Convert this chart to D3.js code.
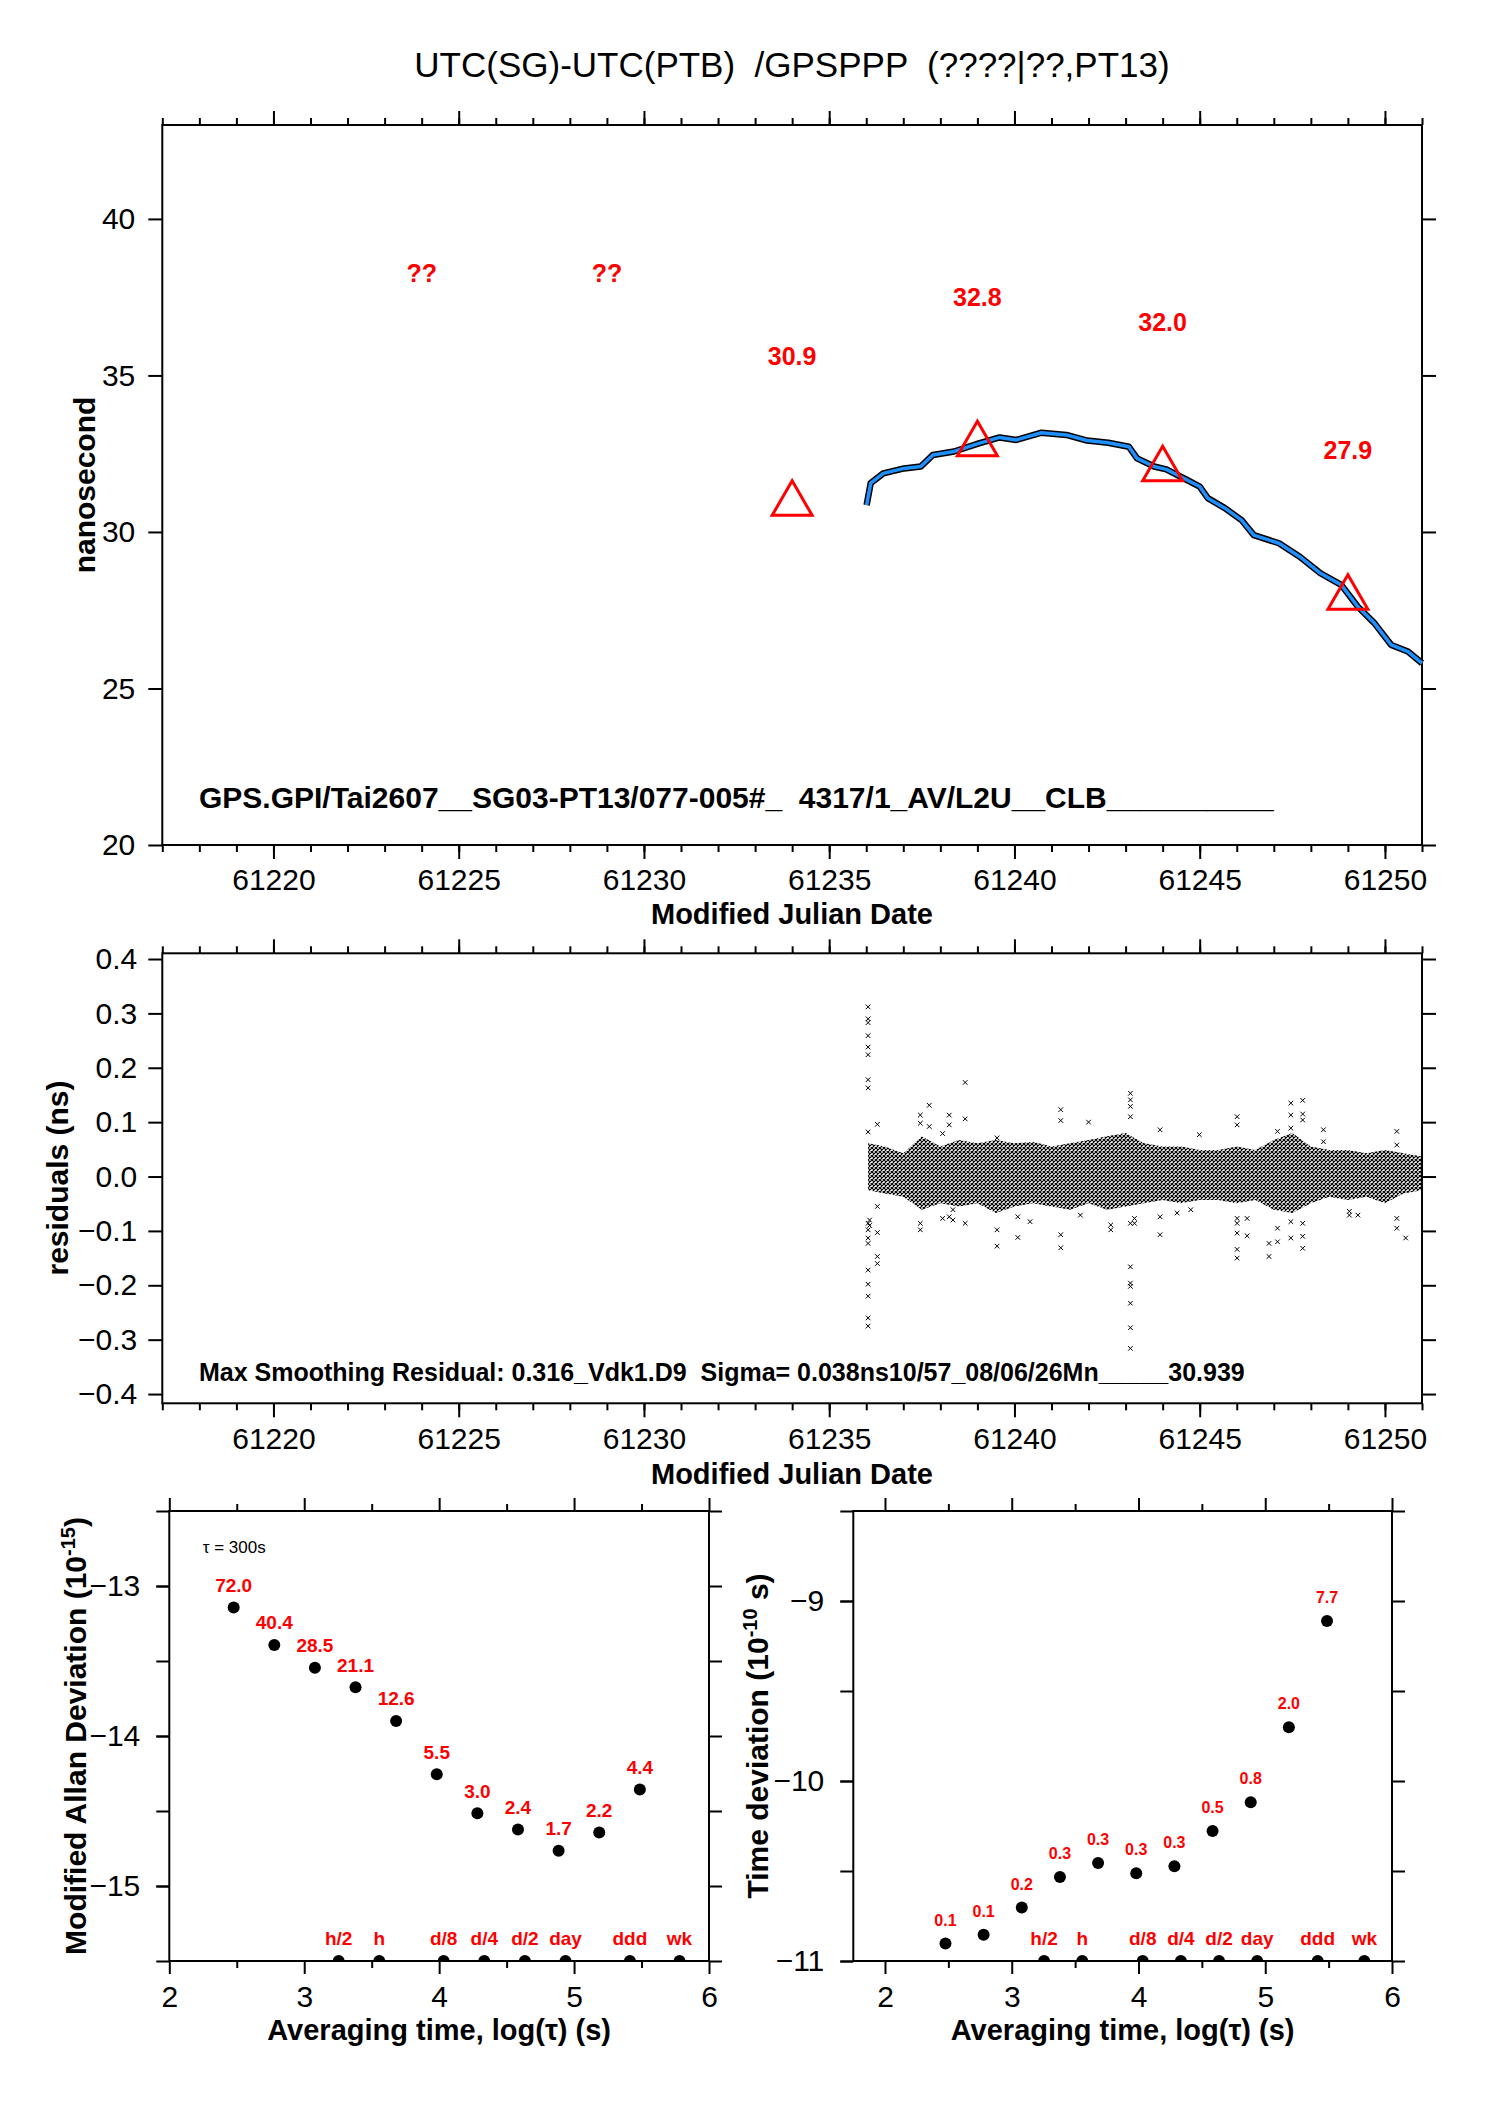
<!DOCTYPE html>
<html>
<head>
<meta charset="utf-8">
<script src="https://cdn.jsdelivr.net/npm/d3@7/dist/d3.min.js"></script>
<style>
   body { margin: 0; background: #ffffff; }
   text { font-family: "Liberation Sans", Arial, Helvetica, sans-serif; }
</style>
</head>
<body>
<svg id="chart" width="1488" height="2105"></svg>
<script>

// ---- texts ----
var titleText = "UTC(SG)-UTC(PTB)  /GPSPPP  (????|??,PT13)";
var topNote = "GPS.GPI/Tai2607__SG03-PT13/077-005#_  4317/1_AV/L2U__CLB__________";
var resNote = "Max Smoothing Residual: 0.316_Vdk1.D9  Sigma= 0.038ns10/57_08/06/26Mn_____30.939";

// ---- top panel: smoothed UTC(SG)-UTC(PTB) in ns ----
var smoothMjd = [61236.01, 61236.12, 61236.46, 61237.02, 61237.47, 61237.80, 61238.37, 61239.04,
                 61239.60, 61240.05, 61240.73, 61241.40, 61241.96, 61242.53, 61243.09, 61243.31,
                 61243.77, 61244.10, 61244.66, 61245.00, 61245.22, 61245.68, 61246.13, 61246.46,
                 61247.14, 61247.70, 61248.26, 61248.82, 61249.27, 61249.72, 61250.17, 61250.62, 61251.00];
var smoothNs = [30.86, 31.56, 31.87, 32.03, 32.09, 32.46, 32.57, 32.83,
                33.02, 32.94, 33.17, 33.10, 32.92, 32.85, 32.72, 32.35,
                32.09, 32.00, 31.66, 31.45, 31.08, 30.76, 30.38, 29.90,
                29.64, 29.21, 28.68, 28.31, 27.61, 27.08, 26.39, 26.18, 25.81];

// daily reference points (triangles) and their printed values
var markMjd = [61224, 61229, 61234, 61239, 61244, 61249];
var markNs = [null, null, 30.9, 32.8, 32.0, 27.9];
var markText = ["??", "??", "30.9", "32.8", "32.0", "27.9"];

// ---- residual panel (ns) ----
// dense band of residuals: upper / lower edge every half day
var bandMjd = [61236.05, 61236.5, 61237, 61237.5, 61238, 61238.5, 61239, 61239.5, 61240, 61240.5,
               61241, 61241.5, 61242, 61242.5, 61243, 61243.5, 61244, 61244.5, 61245, 61245.5,
               61246, 61246.5, 61247, 61247.5, 61248, 61248.5, 61249, 61249.5, 61250, 61250.5, 61251];
var bandHi = [0.061, 0.055, 0.043, 0.074, 0.055, 0.067, 0.061, 0.067, 0.061, 0.064,
              0.055, 0.061, 0.067, 0.074, 0.080, 0.061, 0.055, 0.055, 0.049, 0.049,
              0.055, 0.049, 0.067, 0.080, 0.055, 0.049, 0.049, 0.043, 0.049, 0.043, 0.037];
var bandLo = [-0.025, -0.031, -0.037, -0.061, -0.049, -0.055, -0.049, -0.067, -0.055, -0.049,
              -0.055, -0.061, -0.049, -0.061, -0.055, -0.049, -0.043, -0.049, -0.043, -0.043,
              -0.049, -0.043, -0.061, -0.067, -0.049, -0.037, -0.043, -0.037, -0.049, -0.031, -0.025];
// isolated residuals outside the band [mjd, ns]
var residualOutliers = [
   [61236.05, 0.312], [61236.05, 0.290], [61236.05, 0.283], [61236.05, 0.259], [61236.05, 0.238],
   [61236.05, 0.224], [61236.05, 0.178], [61236.05, 0.163], [61236.05, 0.082], [61236.05, -0.086],
   [61236.05, -0.098], [61236.05, -0.113], [61236.05, -0.123], [61236.05, -0.172], [61236.05, -0.198],
   [61236.05, -0.220], [61236.05, -0.260], [61236.05, -0.275],
   [61236.09, -0.080], [61236.09, -0.090],
   [61236.30, 0.096], [61236.30, -0.055], [61236.30, -0.103], [61236.30, -0.147], [61236.30, -0.160],
   [61237.46, 0.113], [61237.46, 0.098], [61237.46, -0.086], [61237.46, -0.098],
   [61237.70, 0.131], [61237.70, 0.092],
   [61238.06, 0.079], [61238.06, -0.077],
   [61238.24, 0.113], [61238.24, 0.095], [61238.24, -0.074],
   [61238.34, -0.061], [61238.34, -0.080],
   [61238.67, 0.173], [61238.67, 0.106], [61238.67, -0.086],
   [61239.53, 0.071], [61239.53, -0.098], [61239.53, -0.128],
   [61240.09, -0.112], [61240.09, -0.074],
   [61240.42, -0.083],
   [61241.25, 0.123], [61241.25, 0.103], [61241.25, -0.107], [61241.25, -0.131],
   [61241.78, -0.071],
   [61242.00, 0.100],
   [61242.60, -0.089], [61242.60, -0.098],
   [61243.13, 0.153], [61243.13, 0.141], [61243.13, 0.129], [61243.13, 0.110], [61243.13, -0.086],
   [61243.13, -0.166], [61243.13, -0.196], [61243.13, -0.202], [61243.13, -0.233], [61243.13, -0.278],
   [61243.13, -0.316],
   [61243.24, -0.077], [61243.24, -0.086],
   [61243.93, 0.086], [61243.93, -0.074], [61243.93, -0.107],
   [61244.39, -0.067],
   [61244.76, -0.061],
   [61244.99, 0.077],
   [61246.01, 0.110], [61246.01, 0.095], [61246.01, -0.077], [61246.01, -0.086], [61246.01, -0.104],
   [61246.01, -0.134], [61246.01, -0.150],
   [61246.28, -0.077], [61246.28, -0.109],
   [61246.87, -0.123], [61246.87, -0.147],
   [61247.10, 0.083], [61247.10, -0.095], [61247.10, -0.120],
   [61247.46, 0.135], [61247.46, 0.113], [61247.46, 0.089], [61247.46, -0.083], [61247.46, -0.113],
   [61247.78, 0.140], [61247.78, 0.115], [61247.78, 0.104], [61247.78, -0.086], [61247.78, -0.110],
   [61247.78, -0.132],
   [61248.34, 0.086], [61248.34, 0.064],
   [61249.04, -0.064], [61249.04, -0.071],
   [61249.27, -0.071],
   [61250.32, 0.083], [61250.32, 0.058], [61250.32, -0.077], [61250.32, -0.095],
   [61250.56, -0.113]
];

// ---- stability panels ----
var tauSec = [300, 600, 1200, 2400, 4800, 9600, 19200, 38400, 76800, 153600, 307200];
var mdevVal = [72.0, 40.4, 28.5, 21.1, 12.6, 5.55, 3.05, 2.38, 1.72, 2.27, 4.4];      // 1e-15
var mdevText = ["72.0", "40.4", "28.5", "21.1", "12.6", "5.5", "3.0", "2.4", "1.7", "2.2", "4.4"];
var tdevVal = [0.125, 0.140, 0.198, 0.293, 0.350, 0.307, 0.336, 0.527, 0.762, 1.99, 7.74]; // 1e-10 s
var tdevText = ["0.1", "0.1", "0.2", "0.3", "0.3", "0.3", "0.3", "0.5", "0.8", "2.0", "7.7"];
var spanSec = [1800, 3600, 10800, 21600, 43200, 86400, 259200, 604800];
var spanText = ["h/2", "h", "d/8", "d/4", "d/2", "day", "ddd", "wk"];


var svg = d3.select("#chart");
var FONT = "'Liberation Sans', Arial, Helvetica, sans-serif";

/**Adds one set of ticks (and optionally labels) along a side of a panel.
 * @param {*} g group to draw in.
 * @param {*} axis d3 axis constructor (d3.axisBottom etc).
 * @param {*} scale the scale of that side.
 * @param {*} values tick values.
 * @param {*} size tick length, drawn outward.
 * @param {*} shift transform string for the axis group.
 * @param {*} fmt label formatter or null for no labels.
 * @param {*} pad distance between tick and label.
 */
function add_axis(g, axis, scale, values, size, shift, fmt, pad) {

   var a = axis(scale)
            .tickValues(values)
            .tickSize(size)
            .tickSizeOuter(0)
            .tickPadding(pad || 0)
            .tickFormat(fmt || function() { return ""; });
   var ag = g.append("g")
             .attr("transform", shift)
             .call(a);
   ag.select(".domain").remove();
   ag.selectAll("line")
     .attr("stroke", "#000")
     .attr("stroke-width", 2);
   ag.selectAll("text")
     .attr("font-family", FONT)
     .attr("font-size", 30)
     .attr("fill", "#000");
   return ag;
}

/**Draws the box of a panel.
 */
function add_box(g, x, y) {

   g.append("rect")
    .attr("x", x.range()[0])
    .attr("y", y.range()[1])
    .attr("width", x.range()[1] - x.range()[0])
    .attr("height", y.range()[0] - y.range()[1])
    .attr("fill", "none")
    .attr("stroke", "#000")
    .attr("stroke-width", 2);
}

/**Rotated axis title, centred on (cx, cy).
 */
function add_ylabel(g, cx, cy, main, sup, tail) {

   var t = g.append("text")
            .attr("transform", "translate(" + cx + "," + cy + ") rotate(-90)")
            .attr("text-anchor", "middle")
            .attr("dy", "0.35em")
            .attr("font-family", FONT)
            .attr("font-weight", "bold")
            .attr("font-size", 30)
            .style("white-space", "pre");
   t.append("tspan").text(main);
   if (sup) {
      t.append("tspan").attr("baseline-shift", "super").attr("font-size", 20).text(sup);
      t.append("tspan").text(tail);
   }
}

function add_xlabel(g, cx, baseline, text) {

   g.append("text")
    .attr("x", cx)
    .attr("y", baseline)
    .attr("text-anchor", "middle")
    .attr("font-family", FONT)
    .attr("font-weight", "bold")
    .attr("font-size", 29)
    .text(text);
}

/**Frame of a MJD panel: box, daily minor ticks, 5 day major ticks with labels.
 */
function mjd_frame(g, x, y, yTicks, yFmt, yPad) {

   var top = y.range()[1], bottom = y.range()[0];
   var left = x.range()[0], right = x.range()[1];
   var days = d3.range(61217, 61252);
   var fives = d3.range(61220, 61251, 5);
   add_box(g, x, y);
   add_axis(g, d3.axisBottom, x, days, 7, "translate(0," + bottom + ")");
   add_axis(g, d3.axisBottom, x, fives, 14, "translate(0," + bottom + ")", d3.format("d"), 10);
   add_axis(g, d3.axisTop, x, days, 7, "translate(0," + top + ")");
   add_axis(g, d3.axisTop, x, fives, 14, "translate(0," + top + ")");
   add_axis(g, d3.axisLeft, y, yTicks, 14, "translate(" + left + ",0)", yFmt, yPad);
   add_axis(g, d3.axisRight, y, yTicks, 14, "translate(" + right + ",0)");
}

// ================= title =================
svg.append("text")
   .attr("x", 792)
   .attr("y", 77)
   .attr("text-anchor", "middle")
   .attr("font-family", FONT)
   .attr("font-size", 35)
   .style("white-space", "pre")
   .text(titleText);

// ================= top panel =================
function draw_top() {

   var g = svg.append("g");
   var x = d3.scaleLinear().domain([61217, 61251]).range([162.3, 1422]);
   var y = d3.scaleLinear().domain([20, 43]).range([845, 125]);

   mjd_frame(g, x, y, [20, 25, 30, 35, 40], d3.format("d"), 13);

   var line = d3.line()
                .x(function(d, i) { return x(smoothMjd[i]); })
                .y(function(d) { return y(d); });
   // raw points scatter (black fringe) and smoothed curve (blue)
   g.append("path")
    .datum(smoothNs)
    .attr("fill", "none")
    .attr("stroke", "#000")
    .attr("stroke-width", 6.5)
    .attr("stroke-linejoin", "round")
    .attr("d", line);
   g.append("path")
    .datum(smoothNs)
    .attr("fill", "none")
    .attr("stroke", "#1e90ff")
    .attr("stroke-width", 3.5)
    .attr("stroke-linejoin", "round")
    .attr("d", line);

   var tri = d3.symbol().type(d3.symbolTriangle).size(690);
   markMjd.forEach(function(m, i) {
      if (markNs[i] !== null) {
         g.append("path")
          .attr("d", tri)
          .attr("transform", "translate(" + x(m) + "," + y(markNs[i]) + ")")
          .attr("fill", "none")
          .attr("stroke", "#ff0000")
          .attr("stroke-width", 3);
      }
      var ly = markNs[i] !== null ? y(markNs[i] + 4.7) : y(38.27);
      g.append("text")
       .attr("x", x(m))
       .attr("y", ly)
       .attr("dy", "0.35em")
       .attr("text-anchor", "middle")
       .attr("font-family", FONT)
       .attr("font-weight", "bold")
       .attr("font-size", 25)
       .attr("fill", "#ff0000")
       .text(markText[i]);
   });

   g.append("text")
    .attr("x", 199)
    .attr("y", 808)
    .attr("font-family", FONT)
    .attr("font-weight", "bold")
    .attr("font-size", 30)
    .style("white-space", "pre")
    .text(topNote);

   add_ylabel(g, 84, 485, "nanosecond");
   add_xlabel(g, 792, 924, "Modified Julian Date");
}

// ================= residual panel =================
function draw_residuals() {

   var g = svg.append("g");
   var x = d3.scaleLinear().domain([61217, 61251]).range([162.3, 1422]);
   var y = d3.scaleLinear().domain([-0.417, 0.4105]).range([1403.3, 953.3]);
   var yTicks = [-0.4, -0.3, -0.2, -0.1, 0, 0.1, 0.2, 0.3, 0.4];

   mjd_frame(g, x, y, yTicks, d3.format(".1f"), 11);

   var pat = svg.append("defs")
                .append("pattern")
                .attr("id", "xmarks")
                .attr("patternUnits", "userSpaceOnUse")
                .attr("width", 4)
                .attr("height", 4);
   pat.append("path")
      .attr("d", "M0,0L4,4M4,0L0,4")
      .attr("stroke", "#000")
      .attr("stroke-width", 1.2);

   var area = d3.area()
                .x(function(d, i) { return x(bandMjd[i]); })
                .y0(function(d, i) { return y(bandLo[i]); })
                .y1(function(d) { return y(d); });
   g.append("path")
    .datum(bandHi)
    .attr("fill", "url(#xmarks)")
    .attr("d", area);

   g.selectAll(".outlier")
    .data(residualOutliers)
    .enter()
    .append("path")
    .attr("class", "outlier")
    .attr("transform", function(d) { return "translate(" + x(d[0]) + "," + y(d[1]) + ")"; })
    .attr("d", "M-2.3,-2.3L2.3,2.3M2.3,-2.3L-2.3,2.3")
    .attr("stroke", "#000")
    .attr("stroke-width", 1);

   g.append("text")
    .attr("x", 199)
    .attr("y", 1381)
    .attr("font-family", FONT)
    .attr("font-weight", "bold")
    .attr("font-size", 25)
    .style("white-space", "pre")
    .text(resNote);

   add_ylabel(g, 57, 1178, "residuals (ns)");
   add_xlabel(g, 792, 1484, "Modified Julian Date");
}

/**One of the two stability panels (log-log).
 */
function draw_stability(id, xRange, xDomain, yDomain, vals, texts, scaleExp,
                        valFont, valLift, yLabelX, ylab, ysup, ytail, showTau) {

   var g = svg.append("g");
   var x = d3.scaleLinear().domain(xDomain).range(xRange);
   var y = d3.scaleLinear().domain(yDomain).range([1961, 1511]);
   var top = 1511, bottom = 1961;
   var halves = d3.range(Math.ceil(xDomain[0] * 2), xDomain[1] * 2 + 1).map(function(v) { return v / 2; });
   var ints = halves.filter(function(v) { return v % 1 === 0; });
   var halfOnly = halves.filter(function(v) { return v % 1 !== 0; });
   var yHalves = d3.range(yDomain[0] * 2, yDomain[1] * 2 + 1).map(function(v) { return v / 2; });
   var yInts = yHalves.filter(function(v) { return v % 1 === 0; });

   add_box(g, x, y);
   add_axis(g, d3.axisBottom, x, halfOnly, 7, "translate(0," + bottom + ")");
   add_axis(g, d3.axisBottom, x, ints, 13, "translate(0," + bottom + ")", d3.format("d"), 12);
   add_axis(g, d3.axisTop, x, halfOnly, 7, "translate(0," + top + ")");
   add_axis(g, d3.axisTop, x, ints, 13, "translate(0," + top + ")");
   add_axis(g, d3.axisLeft, y, yHalves, 13, "translate(" + xRange[0] + ",0)");
   add_axis(g, d3.axisLeft, y, yInts, 13, "translate(" + xRange[0] + ",0)", d3.format("d"), 16);
   add_axis(g, d3.axisRight, y, yHalves, 13, "translate(" + xRange[1] + ",0)");

   svg.append("defs")
      .append("clipPath")
      .attr("id", id)
      .append("rect")
      .attr("x", xRange[0])
      .attr("y", top)
      .attr("width", xRange[1] - xRange[0])
      .attr("height", bottom - top);

   // averaging time markers along the bottom axis
   g.append("g")
    .attr("clip-path", "url(#" + id + ")")
    .selectAll("circle")
    .data(spanSec)
    .enter()
    .append("circle")
    .attr("cx", function(d) { return x(Math.log10(d)); })
    .attr("cy", bottom)
    .attr("r", 6)
    .attr("fill", "#000");
   g.selectAll(".span")
    .data(spanText)
    .enter()
    .append("text")
    .attr("class", "span")
    .attr("x", function(d, i) { return x(Math.log10(spanSec[i])); })
    .attr("y", bottom - 16.5)
    .attr("text-anchor", "middle")
    .attr("font-family", FONT)
    .attr("font-weight", "bold")
    .attr("font-size", 19)
    .attr("fill", "#ff0000")
    .text(function(d) { return d; });

   g.selectAll(".pt")
    .data(vals)
    .enter()
    .append("circle")
    .attr("class", "pt")
    .attr("cx", function(d, i) { return x(Math.log10(tauSec[i])); })
    .attr("cy", function(d) { return y(Math.log10(d) + scaleExp); })
    .attr("r", 6)
    .attr("fill", "#000");
   g.selectAll(".val")
    .data(texts)
    .enter()
    .append("text")
    .attr("class", "val")
    .attr("x", function(d, i) { return x(Math.log10(tauSec[i])); })
    .attr("y", function(d, i) { return y(Math.log10(vals[i]) + scaleExp) - valLift; })
    .attr("text-anchor", "middle")
    .attr("font-family", FONT)
    .attr("font-weight", "bold")
    .attr("font-size", valFont)
    .attr("fill", "#ff0000")
    .text(function(d) { return d; });

   if (showTau) {
      g.append("text")
       .attr("x", xRange[0] + 33.4)
       .attr("y", top + 42)
       .attr("font-family", FONT)
       .attr("font-size", 17)
       .text("\u03c4 = 300s");
   }

   add_ylabel(g, yLabelX, 1736, ylab, ysup, ytail);
   add_xlabel(g, (xRange[0] + xRange[1]) / 2, 2040, "Averaging time, log(\u03c4) (s)");
}

draw_top();
draw_residuals();
draw_stability("clipMdev", [169.3, 709], [2, 6], [-15.5, -12.5], mdevVal, mdevText, -15,
               19, 15.6, 75, "Modified Allan Deviation (10", "-15", ")", true);
draw_stability("clipTdev", [853.3, 1392], [1.75, 6], [-11, -8.5], tdevVal, tdevText, -10,
               16, 18, 757, "Time deviation (10", "-10", " s)", false);

</script>
</body>
</html>
